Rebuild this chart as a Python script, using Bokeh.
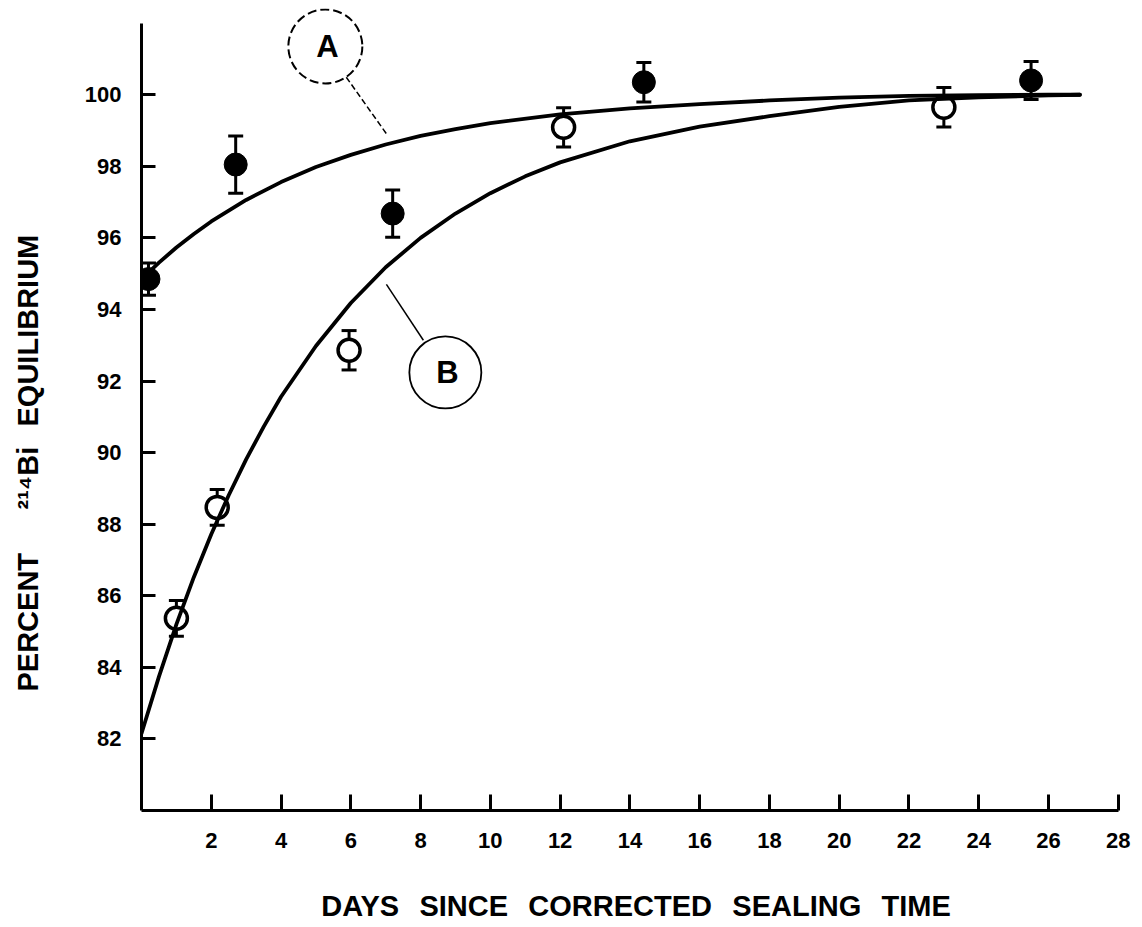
from math import pi
from bokeh.plotting import figure
from bokeh.models import Range1d, FixedTicker, Whisker, TeeHead, ColumnDataSource, Label
from bokeh.embed import file_html
from bokeh.resources import INLINE

FONT = "Liberation Sans"

# ---- data ----
curve_a_days = [0, 0.5, 1, 1.5, 2, 3, 4, 5, 6, 7, 8, 9, 10, 12, 14, 16, 18, 20, 22, 24, 26, 26.9]
curve_a_pct = [94.85, 95.31, 95.73, 96.11, 96.46, 97.06, 97.56, 97.98, 98.32, 98.61, 98.85,
               99.04, 99.21, 99.45, 99.62, 99.74, 99.84, 99.92, 99.97, 99.99, 100.0, 100.0]

curve_b_days = [0, 0.5, 1, 1.5, 2, 2.5, 3, 3.5, 4, 5, 6, 7, 8, 9, 10, 11, 12, 14, 16, 18,
                20, 22, 24, 26, 26.9]
curve_b_pct = [82.15, 83.74, 85.20, 86.52, 87.72, 88.81, 89.81, 90.72, 91.56, 92.98, 94.18,
               95.18, 96.00, 96.68, 97.25, 97.72, 98.11, 98.70, 99.11, 99.40, 99.66, 99.84,
               99.93, 99.98, 100.0]

filled_days = [0.2, 2.7, 7.2, 14.4, 25.5]
filled_pct = [94.85, 98.05, 96.68, 100.35, 100.40]
filled_err = [0.45, 0.80, 0.66, 0.55, 0.53]

open_days = [1.0, 2.17, 5.95, 12.1, 23.0]
open_pct = [85.37, 88.47, 92.86, 99.09, 99.65]
open_err = [0.50, 0.50, 0.55, 0.55, 0.55]

x_ticks = [2, 4, 6, 8, 10, 12, 14, 16, 18, 20, 22, 24, 26, 28]
y_ticks = [82, 84, 86, 88, 90, 92, 94, 96, 98, 100]

GAP = "\u2002\u2009"
x_title = GAP.join(["DAYS", "SINCE", "CORRECTED", "SEALING", "TIME"])
# trailing wide spaces push the visible title below the frame centre, as in the original
y_title = ("PERCENT\u2003\u2002\u00b2\u00b9\u2074Bi" + GAP + "EQUILIBRIUM"
           + "\u2003\u2003\u2003\u2002\u2009")

# ---- figure ----
p = figure(width=1134, height=925,
           x_range=Range1d(0, 28.35), y_range=Range1d(80, 102.41),
           output_backend="svg", toolbar_location=None,
           min_border_left=141, min_border_right=4, min_border_top=8, min_border_bottom=115,
           background_fill_color="white", border_fill_color="white")
p.outline_line_color = None
p.xgrid.visible = False
p.ygrid.visible = False

for ax, ticks, bounds in ((p.xaxis[0], x_ticks, (0, 28)), (p.yaxis[0], y_ticks, (80, 102))):
    ax.ticker = FixedTicker(ticks=ticks)
    ax.bounds = bounds
    ax.axis_line_width = 3
    ax.axis_line_color = "black"
    ax.major_tick_line_width = 3
    ax.major_tick_line_color = "black"
    ax.major_tick_out = 0
    ax.minor_tick_in = 0
    ax.minor_tick_out = 0
    ax.major_label_text_font = FONT
    ax.major_label_text_font_style = "bold"
    ax.major_label_text_font_size = "22px"
    ax.major_label_text_color = "black"
    ax.axis_label_text_font = FONT
    ax.axis_label_text_font_style = "bold"
    ax.axis_label_text_color = "black"

p.xaxis.major_tick_in = 16
p.xaxis.major_label_standoff = 22
p.yaxis.major_tick_in = 14
p.yaxis.major_label_standoff = 20

p.xaxis.axis_label = x_title
p.xaxis.axis_label_text_font_size = "29px"
p.xaxis.axis_label_standoff = 39

p.yaxis.axis_label = y_title
p.yaxis.axis_label_text_font_size = "29px"
p.yaxis.axis_label_standoff = 38

# error bars
def add_bars(xs, ys, es):
    src = ColumnDataSource(dict(x=xs, lo=[y - e for y, e in zip(ys, es)],
                                hi=[y + e for y, e in zip(ys, es)]))
    w = Whisker(base="x", lower="lo", upper="hi", source=src, dimension="height",
                line_width=3, line_color="black", level="underlay",
                upper_head=TeeHead(size=15, line_width=3, line_color="black"),
                lower_head=TeeHead(size=15, line_width=3, line_color="black"))
    p.add_layout(w)

add_bars(open_days, open_pct, open_err)
add_bars(filled_days, filled_pct, filled_err)

p.scatter(open_days, open_pct, size=22, fill_color="white", line_color="black", line_width=3.5)

p.line(curve_a_days, curve_a_pct, line_width=3.8, line_color="black", line_join="round", line_cap="round")
p.line(curve_b_days, curve_b_pct, line_width=3.8, line_color="black", line_join="round", line_cap="round")

p.scatter(filled_days, filled_pct, size=23, fill_color="black", line_color="black")

# curve labels A and B
p.scatter([5.27], [101.35], size=74, fill_color=None, line_color="black", line_width=2, line_dash="9 4")
p.segment(x0=[5.87], y0=[100.49], x1=[7.05], y1=[98.87], line_width=1.5, line_color="black", line_dash="6 3")
p.scatter([8.71], [92.24], size=72, fill_color=None, line_color="black", line_width=1.8)
p.segment(x0=[7.02], y0=[94.70], x1=[8.08], y1=[93.14], line_width=1.5, line_color="black")

for tx, ty, t in ((5.33, 101.35, "A"), (8.77, 92.24, "B")):
    p.add_layout(Label(x=tx, y=ty, text=t, text_font=FONT, text_font_style="bold",
                       text_font_size="31px", text_align="center", text_baseline="middle",
                       text_color="black"))

open("out.html", "w").write(file_html(p, INLINE))
